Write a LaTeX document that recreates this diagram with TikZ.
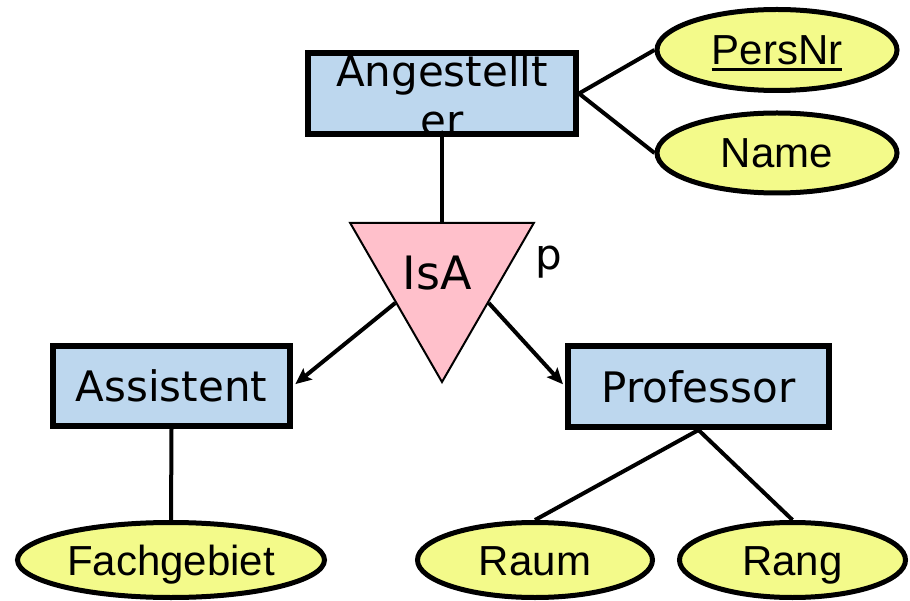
\documentclass[tikz,border=0pt]{standalone}
\usepackage{fontspec}
\setmainfont{DejaVu Sans}
\newfontfamily\attrfont{Liberation Sans}
\usetikzlibrary{shapes.geometric, arrows.meta}

\definecolor{entityblue}{RGB}{189,215,238}
\definecolor{attryellow}{RGB}{243,250,138}
\definecolor{isapink}{RGB}{255,192,203}

% key attribute: text with a heavy rule beneath it
\newcommand{\keyattr}[1]{\setbox0=\hbox{#1}\rlap{\rule[-6.5pt]{\wd0}{3pt}}\box0}

\begin{document}
\begin{tikzpicture}[x=1pt, y=-1pt,
  entity/.style={rectangle, draw, line width=6pt, fill=entityblue,
    inner sep=0pt, font=\fontsize{42}{49}\selectfont},
  attribute/.style={ellipse, draw, line width=5pt, fill=attryellow,
    inner sep=0pt, text height=30pt, text depth=0pt,
    font=\attrfont\fontsize{42}{49}\selectfont},
  isa/.style={regular polygon, regular polygon sides=3,
    shape border rotate=180, draw, line width=2pt, fill=isapink,
    minimum size=212pt, inner sep=0pt},
  plain/.style={inner sep=0pt, font=\fontsize{42}{49}\selectfont},
  link/.style={line width=4pt},
  specialize/.style={link, shorten >=3pt,
    -{Stealth[length=16pt, width=14pt, inset=3pt]}}
]
\useasboundingbox (0,0) rectangle (910,601);

% entities
\node[entity, minimum width=268pt, minimum height=81pt] (ang) at (442,93.5) {};
\node[entity, minimum width=237pt, minimum height=80pt] (ass) at (171.5,386) {Assistent};
\node[entity, minimum width=261pt, minimum height=81pt] (pro) at (698.5,386.5) {Professor};

% generalisation triangle
\node[isa] (isa) at (442,276) {};
\node[inner sep=0pt, font=\fontsize{46}{50}\selectfont] (isatext) at (437,273) {IsA};
\node[plain, anchor=base] (ptext) at (549,270) {p};

% attributes
\node[attribute, minimum width=240pt, minimum height=81pt] (pers) at (777,50) {\keyattr{PersNr}};
\node[attribute, minimum width=240pt, minimum height=80pt] (name) at (777,153) {Name};
\node[attribute, minimum width=307pt, minimum height=75pt] (fach) at (171,560) {Fachgebiet};
\node[attribute, minimum width=235pt, minimum height=75pt] (raum) at (535,560) {Raum};
\node[attribute, minimum width=226pt, minimum height=75pt] (rang) at (792.5,560) {Rang};

% connectors
\draw[link] (ang.east) -- (pers.west);
\draw[link] (ang.east) -- (name.west);
\draw[link] (ang.south) -- (isa.90);
\draw[specialize] (isa.210) -- (ass.east);
\draw[specialize] (isa.330) -- (pro.west);
\draw[link] (ass.south) -- (fach.north);
\draw[link] (pro.south) -- (raum.north);
\draw[link] (pro.south) -- (rang.north);

% entity name that runs over the box edge
\node[plain, anchor=north, align=center] (angtext) at (442,54) {Angestellt\\er};
\end{tikzpicture}
\end{document}
